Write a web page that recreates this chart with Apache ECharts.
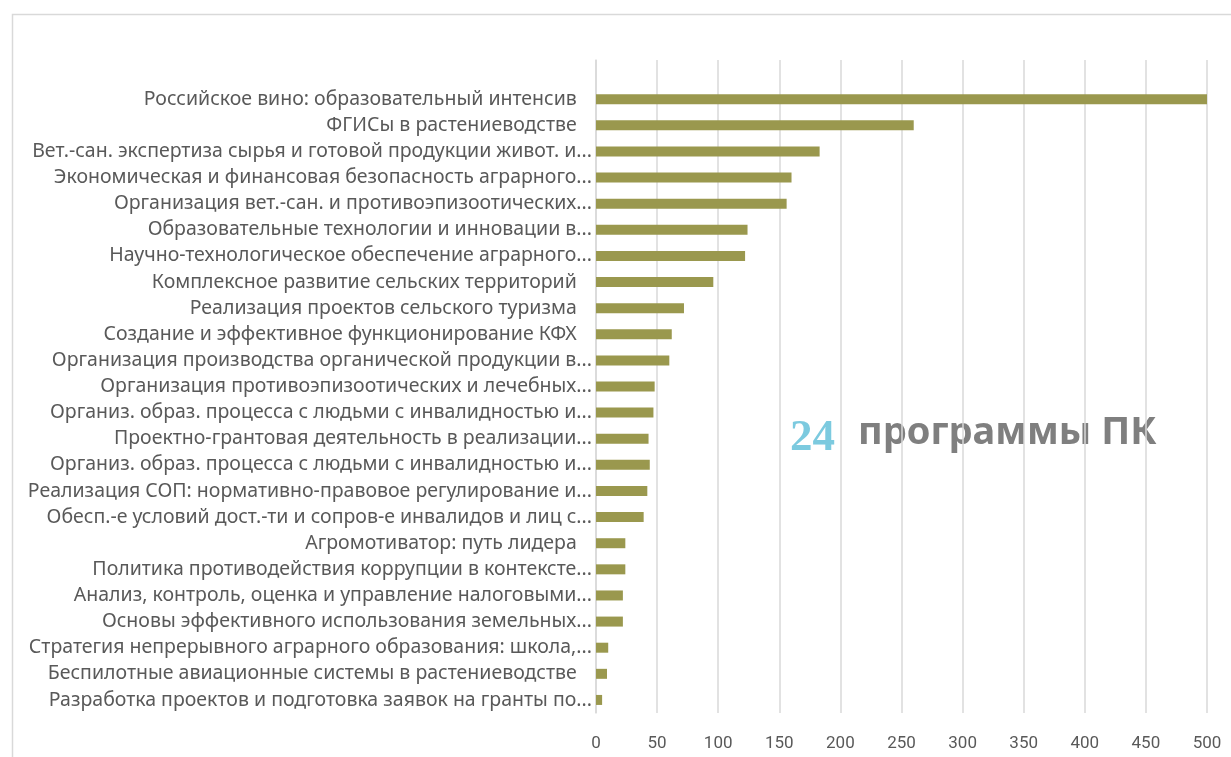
<!DOCTYPE html>
<html>
<head>
<meta charset="utf-8">
<script src="https://cdn.jsdelivr.net/npm/echarts@6/dist/echarts.min.js"></script>
<style>
html,body{margin:0;padding:0;background:#fff;}
#main{width:1231px;height:757px;}
</style>
</head>
<body>
<div id="main"></div>
<script>
const categories = [
  'Российское вино: образовательный интенсив ',
  'ФГИСы в растениеводстве ',
  'Вет.-сан. экспертиза сырья и готовой продукции живот. и...',
  'Экономическая и финансовая безопасность аграрного...',
  'Организация вет.-сан. и противоэпизоотических...',
  'Образовательные технологии и инновации в...',
  'Научно-технологическое обеспечение аграрного...',
  'Комплексное развитие сельских территорий ',
  'Реализация проектов сельского туризма ',
  'Создание и эффективное функционирование КФХ ',
  'Организация производства органической продукции в...',
  'Организация противоэпизоотических и лечебных...',
  'Организ. образ. процесса с людьми с инвалидностью и...',
  'Проектно-грантовая деятельность в реализации...',
  'Организ. образ. процесса с людьми с инвалидностью и...',
  'Реализация СОП: нормативно-правовое регулирование и...',
  'Обесп.-е условий дост.-ти и сопров-е инвалидов и лиц с...',
  'Агромотиватор: путь лидера ',
  'Политика противодействия коррупции в контексте...',
  'Анализ, контроль, оценка и управление налоговыми...',
  'Основы эффективного использования земельных...',
  'Стратегия непрерывного аграрного образования: школа,...',
  'Беспилотные авиационные системы в растениеводстве ',
  'Разработка проектов и подготовка заявок на гранты по...'
];
const values = [501, 260, 183, 160, 156, 124, 122, 96, 72, 62, 60, 48, 47, 43, 44, 42, 39, 24, 24, 22, 22, 10, 9, 5];
const xTicks = {min: 0, max: 500, interval: 50};
const countLabel = '24';
const titleLabel = 'программы ПК';

const chart = echarts.init(document.getElementById('main'), null, {renderer: 'canvas'});
const axisCats = [''].concat(categories);
const axisVals = [null].concat(values);
chart.setOption({
  animation: false,
  backgroundColor: '#ffffff',
  grid: {left: 596, right: 24, top: 60, bottom: 44, containLabel: false},
  xAxis: {
    type: 'value', min: xTicks.min, max: xTicks.max, interval: xTicks.interval,
    axisLine: {show: false}, axisTick: {show: false},
    splitLine: {show: true, lineStyle: {color: '#d9d9d9', width: 1.5}},
    axisLabel: {color: '#595959', fontSize: 17, fontFamily: 'Roboto', margin: 22}
  },
  yAxis: {
    type: 'category', inverse: true, data: axisCats,
    axisLine: {show: true, lineStyle: {color: '#d9d9d9', width: 1.5}},
    axisTick: {show: false},
    axisLabel: {
      color: '#595959', fontSize: 19.5, fontFamily: '"Noto Sans"', margin: 4, interval: 0,
      formatter: function (v) { return v.replace(/ $/, '   '); }
    }
  },
  series: [{
    type: 'bar', data: axisVals, barWidth: 10,
    itemStyle: {color: '#9a984e'}
  }],
  graphic: [
    {type: 'rect', left: 10, top: 12, shape: {x: 0, y: 0, width: 1240, height: 760},
     style: {fill: 'none', stroke: '#d9d9d9', lineWidth: 1.5}, silent: true},
    {type: 'text', left: 790, top: 416,
     style: {text: countLabel, fill: '#7ccadf', font: 'bold 45px "Liberation Serif"'}},
    {type: 'text', left: 858, top: 414,
     style: {text: titleLabel, fill: '#7f7f7f', font: 'bold 38px "Noto Sans"'}}
  ]
});
</script>
</body>
</html>
